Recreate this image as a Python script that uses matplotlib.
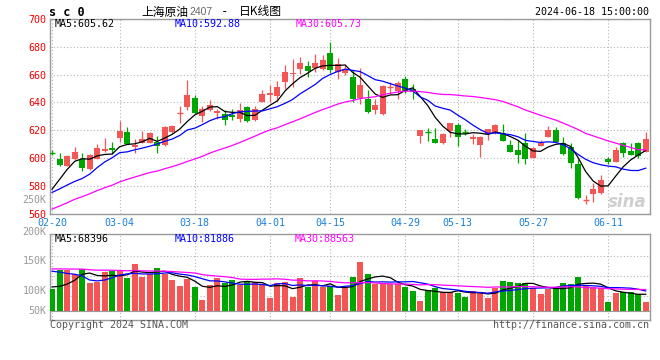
import numpy as np
import pandas as pd
import matplotlib
matplotlib.use('Agg')
import matplotlib.pyplot as plt

#Daily candles for SC crude 2407
opens = [604.2, 599.3, 594.5, 599.0, 599.3, 592.0, 599.5, 605.0, 607.2, 614.4,
         618.7, 608.2, 611.0, 611.0, 611.3, 609.6, 618.7, 632.2, 637.0, 643.4,
         630.4, 634.5, 632.1, 632.0, 630.8, 628.2, 636.6, 627.7, 640.2, 645.7,
         644.5, 654.6, 660.1, 664.2, 666.1, 664.9, 663.9, 675.9, 662.0, 661.3,
         658.6, 643.5, 642.5, 634.6, 631.7, 650.8, 648.5, 657.1, 650.0, 616.1,
         619.0, 613.7, 611.0, 619.7, 623.8, 618.6, 614.0, 609.4, 617.3, 618.3,
         617.8, 609.4, 605.9, 610.6, 600.3, 609.0, 615.0, 620.2, 611.1, 608.2,
         595.8, 569.8, 574.2, 574.7, 599.6, 597.2, 611.1, 605.4, 610.6, 604.7]
highs = [606.0, 604.0, 602.0, 607.7, 603.4, 603.0, 610.3, 614.4, 611.5, 626.6,
         622.3, 613.9, 619.7, 619.0, 615.8, 623.0, 623.8, 637.6, 656.0, 645.0,
         637.7, 641.7, 635.5, 634.4, 635.4, 639.7, 637.8, 637.8, 648.8, 652.2,
         655.5, 667.0, 671.4, 672.8, 669.7, 674.7, 674.2, 683.4, 671.6, 667.5,
         663.4, 665.0, 649.0, 642.3, 652.3, 654.5, 655.7, 659.3, 653.3, 620.5,
         621.6, 621.6, 618.3, 625.5, 625.5, 621.2, 617.3, 615.9, 621.2, 624.5,
         624.6, 613.0, 613.0, 618.3, 608.2, 613.0, 623.1, 622.6, 615.4, 610.6,
         599.1, 573.5, 581.9, 587.9, 601.1, 608.2, 611.8, 611.1, 611.3, 619.0]
lows = [602.0, 594.0, 594.0, 598.5, 590.6, 591.6, 599.0, 604.5, 603.0, 611.5,
        610.0, 603.4, 610.5, 610.5, 603.8, 609.0, 618.2, 625.4, 634.5, 631.4,
        626.1, 633.5, 627.8, 623.9, 627.7, 626.0, 626.0, 627.0, 640.0, 640.4,
        641.0, 650.0, 651.2, 660.1, 658.4, 662.0, 663.0, 661.3, 657.2, 660.0,
        640.0, 638.7, 632.7, 631.7, 630.7, 647.0, 642.3, 646.6, 642.5, 611.0,
        612.3, 610.8, 609.9, 615.4, 608.9, 616.4, 609.9, 601.0, 613.0, 617.5,
        612.0, 604.5, 596.7, 595.8, 600.0, 608.8, 614.8, 611.3, 602.3, 592.7,
        570.4, 566.8, 568.7, 574.5, 595.5, 597.0, 601.1, 602.2, 599.9, 604.5]
closes = [604.0, 595.2, 601.4, 604.3, 593.0, 602.0, 607.2, 606.5, 605.8, 619.4,
          610.0, 609.6, 613.7, 618.2, 608.4, 622.0, 623.3, 632.5, 645.3, 632.1,
          635.3, 638.1, 634.0, 627.7, 629.2, 634.9, 626.8, 635.2, 646.0, 647.0,
          651.0, 661.8, 661.3, 668.2, 662.7, 668.7, 670.4, 663.5, 668.0, 663.9,
          642.3, 652.8, 633.1, 638.2, 651.8, 651.0, 653.8, 648.5, 647.5, 620.2,
          618.7, 611.0, 617.3, 625.2, 614.9, 618.4, 615.4, 615.4, 620.7, 623.8,
          612.6, 604.7, 602.3, 599.1, 607.0, 611.1, 620.2, 611.8, 602.7, 596.3,
          571.1, 570.0, 577.6, 584.3, 597.2, 605.9, 603.5, 602.5, 601.8, 613.5]
volumes = [90200, 168100, 167500, 151700, 173400, 116000, 117700, 159900, 164000, 163200,
           136500, 192700, 140600, 152900, 176300, 151200, 128300, 103700, 128900, 98400,
           46300, 106600, 136800, 113600, 127100, 106200, 123000, 117300, 107100, 54500,
           116400, 120100, 58600, 136200, 99600, 122500, 97200, 100500, 66800, 93100,
           140900, 202100, 151900, 109500, 109100, 109800, 109300, 99900, 82000, 41000,
           86100, 93400, 79100, 79500, 75000, 58900, 81700, 77900, 54500, 92800,
           123000, 118900, 114800, 115200, 92600, 69700, 89000, 93100, 114300, 110700,
           139400, 106600, 99600, 93500, 36900, 75000, 79100, 78800, 70900, 38100]

#Sessions before 02-20, only needed so the moving averages start right
prev_closes = [530, 533, 528, 536, 540, 538, 545, 550, 548, 556, 560, 565, 570, 575, 572,
               578, 582, 585, 580, 576, 570, 574, 578, 572, 571, 560, 566, 575, 583]
prev_volumes = [164000, 184500, 155800, 180400, 192700, 168100, 159900, 176300, 188600, 172200,
                164000, 180400, 168100, 184500, 176300, 159900, 172200, 180400, 164000, 246000,
                205000, 221400, 184500, 237800, 287000, 155800, 123000, 73800, 49200]

#Trading days (exchange holidays taken out)
holidays = ['2024-04-04', '2024-04-05', '2024-05-01', '2024-05-02', '2024-05-03', '2024-06-10']
days = pd.bdate_range('2024-02-20', '2024-06-18').drop(pd.to_datetime(holidays))
day_labels = list(days.strftime('%m-%d'))
tick_dates = ['02-20', '03-04', '03-18', '04-01', '04-15', '04-29', '05-13', '05-27', '06-11']
tick_pos = [day_labels.index(d) for d in tick_dates]

price_ticks = [560, 580, 600, 620, 640, 660, 680, 700]
vol_labels = ['250K', '200K', '150K', '100K', '50K']
vol_label_pos = [1.40, 1.025, 0.694, 0.338, 0.105]  #where sina prints them, axes fraction

#Moving averages
allc = pd.Series(prev_closes + closes)
allv = pd.Series(prev_volumes + volumes)
n = len(closes)
ma5 = allc.rolling(5).mean().values[-n:]
ma10 = allc.rolling(10).mean().values[-n:]
ma30 = allc.rolling(30).mean().values[-n:]
vma5 = allv.rolling(5).mean().values[-n:]
vma10 = allv.rolling(10).mean().values[-n:]
vma30 = allv.rolling(30).mean().values[-n:]

RED = '#f45656'
GREEN = '#00a600'
GRID = '#b4b4b4'
FRAME = '#9a9a9a'
MONO = 'DejaVu Sans Mono'
CJK = ['Noto Sans CJK SC', 'DejaVu Sans']

x = np.arange(n)
colors = [RED if c >= o else GREEN for o, c in zip(opens, closes)]

fig = plt.figure(figsize=(6.6, 3.6), dpi=100)
ax1 = fig.add_axes([50/660, (360-213.7)/360, 600/660, (213.7-19)/360])
ax2 = fig.add_axes([50/660, (360-320)/360, 600/660, (320-234.3)/360])

#Candles
ax1.vlines(x, lows, highs, colors=colors, linewidth=0.9, zorder=3)
for i in range(n):
    o, c = opens[i], closes[i]
    if abs(c - o) < 0.35:
        ax1.hlines(c, i - 0.4, i + 0.4, colors=colors[i], linewidth=1.0, zorder=4)
    else:
        ax1.bar(i, abs(c - o), bottom=min(o, c), width=0.8, color=colors[i], linewidth=0, zorder=4)

ax1.plot(x, ma5, color='black', lw=0.9, zorder=5)
ax1.plot(x, ma10, color='#0000ff', lw=0.9, zorder=5)
ax1.plot(x, ma30, color='#ff00ff', lw=0.9, zorder=5)

ax1.set_xlim(-0.27, n - 0.43)
ax1.set_ylim(560, 700)
ax1.set_yticks(price_ticks)
ax1.set_yticklabels([str(p) for p in price_ticks], color='#ee0000', fontsize=7.2, family=MONO)
ax1.set_xticks(tick_pos)
ax1.set_xticklabels(tick_dates, color='#1a80d8', fontsize=7.2, family=MONO)
ax1.tick_params(length=0, pad=2.5)
ax1.tick_params(axis='x', pad=3)
ax1.grid(True, color=GRID, linestyle=(0, (1, 2)), linewidth=0.8)

ax1.text(0.007, 0.974, 'MA5:605.62', transform=ax1.transAxes, va='center', fontsize=7.2, family=MONO, color='black')
ax1.text(0.207, 0.974, 'MA10:592.88', transform=ax1.transAxes, va='center', fontsize=7.2, family=MONO, color='#0000ff')
ax1.text(0.41, 0.974, 'MA30:605.73', transform=ax1.transAxes, va='center', fontsize=7.2, family=MONO, color='#ff00ff')
ax1.text(0.995, 0.06, 'sina', transform=ax1.transAxes, ha='right', va='center', fontsize=12,
         fontweight='bold', style='italic', color='#cfcfcf', zorder=1)

#Volume
ax2.bar(x, volumes, width=0.8, color=colors, linewidth=0, zorder=3)
ax2.plot(x, vma5, color='black', lw=0.9, zorder=5)
ax2.plot(x, vma10, color='#0000ff', lw=0.9, zorder=5)
ax2.plot(x, vma30, color='#ff00ff', lw=0.9, zorder=5)
ax2.axhline(0, color=FRAME, lw=0.8, zorder=2)

vlo, vhi = -37000, 314000
ax2.set_xlim(ax1.get_xlim())
ax2.set_ylim(vlo, vhi)
ax2.set_xticks(tick_pos)
ax2.set_xticklabels([])
ax2.set_yticks([vlo + f*(vhi - vlo) for f in (0.284, 0.517, 0.75)])
ax2.set_yticklabels([])
ax2.tick_params(length=0)
ax2.grid(True, color=GRID, linestyle=(0, (1, 2)), linewidth=0.8)
for lab, pos in zip(vol_labels, vol_label_pos):
    ax2.text(-0.006, pos, lab, transform=ax2.transAxes, ha='right', va='center',
             fontsize=7.2, family=MONO, color='#9a9a9a', clip_on=False)

ax2.text(0.007, 0.945, 'MA5:68396', transform=ax2.transAxes, va='center', fontsize=7.2, family=MONO, color='black')
ax2.text(0.207, 0.945, 'MA10:81886', transform=ax2.transAxes, va='center', fontsize=7.2, family=MONO, color='#0000ff')
ax2.text(0.407, 0.945, 'MA30:88563', transform=ax2.transAxes, va='center', fontsize=7.2, family=MONO, color='#ff00ff')

for ax in (ax1, ax2):
    for s in ax.spines.values():
        s.set_color(FRAME)
        s.set_linewidth(1.0)

#Header and footer
ty = 1 - 12/360
fig.text(49/660, ty, 's c 0', fontsize=8.5, fontweight='bold', family=MONO, va='center')
fig.text(141/660, ty, '上海原油', fontsize=8.5, family=CJK, va='center')
fig.text(189/660, ty, '2407', fontsize=7.5, color='#666666', va='center', family='Liberation Sans')
fig.text(221/660, ty, '-', fontsize=9, family=MONO, va='center')
fig.text(239/660, ty, '日K线图', fontsize=8.5, family=CJK, va='center')
fig.text(649/660, ty, '2024-06-18 15:00:00', fontsize=7.2, family=MONO, ha='right', va='center')
fig.text(50/660, 1 - 325/360, 'Copyright 2024 SINA.COM', fontsize=7.2, family=MONO, color='#555555', va='center')
fig.text(649/660, 1 - 325/360, 'http://finance.sina.com.cn', fontsize=7.2, family=MONO, color='#555555',
         ha='right', va='center')

fig.savefig('out.png', dpi=100)
